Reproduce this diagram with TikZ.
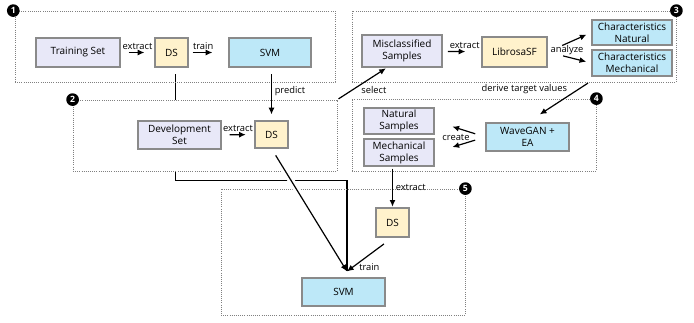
\documentclass[tikz,border=0pt]{standalone}
\usepackage{fontspec}
\setmainfont{Open Sans}
\usepackage{tikz}
\usetikzlibrary{arrows.meta,positioning,fit,calc}
\usepackage{xcolor}
\definecolor{setfill}{HTML}{E8E8F8}
\definecolor{dsfill}{HTML}{FFF2CC}
\definecolor{svmfill}{HTML}{BDE8F8}
\definecolor{edgegray}{HTML}{8A8A8A}
\pgfdeclarelayer{behind}
\pgfdeclarelayer{frames}
\pgfsetlayers{behind,frames,main}
\tikzset{
    pipebox/.style={draw=edgegray, line width=0.9pt, align=center, font=\fontsize{7.5}{9}\selectfont, inner sep=1pt, anchor=center},
    setbox/.style={pipebox, fill=setfill},
    dsbox/.style={pipebox, fill=dsfill},
    svmbox/.style={pipebox, fill=svmfill},
    stageframe/.style={draw=gray, densely dotted, line width=0.6pt, inner sep=0pt},
    stagebadge/.style={circle, fill=black, text=white, inner sep=0pt, minimum size=9.5pt, font=\fontsize{6.5}{7}\selectfont\bfseries},
    pipearrow/.style={-{Latex[length=5pt,width=4.5pt]}, line width=0.9pt},
    pipenote/.style={font=\fontsize{7}{8}\selectfont, inner sep=1pt}
}
\begin{document}
\begin{tikzpicture}[x=0.75pt,y=-0.75pt]
    \useasboundingbox (0,0) rectangle (694,322);

    % stage 1
    \node[setbox, minimum width=63pt, minimum height=21.75pt] (trainset) at (78,52.5) {Training Set};
    \node[dsbox, minimum width=24.75pt, minimum height=21.75pt] (ds1) at (171.5,52.5) {DS};
    \node[svmbox, minimum width=61.5pt, minimum height=21.75pt] (svm1) at (270,52.5) {SVM};

    % stage 2
    \node[setbox, minimum width=62.25pt, minimum height=21pt] (devset) at (179.5,135) {Development\\Set};
    \node[dsbox, minimum width=24.75pt, minimum height=20.25pt] (ds2) at (271.5,134.5) {DS};

    % stage 3
    \node[setbox, minimum width=60pt, minimum height=24pt] (missed) at (402,51) {Misclassified\\Samples};
    \node[dsbox, minimum width=48.75pt, minimum height=22.5pt] (librosa) at (514.5,52) {LibrosaSF};
    \node[svmbox, minimum width=60pt, minimum height=18.75pt] (charnat) at (632,32.5) {Characteristics\\Natural};
    \node[svmbox, minimum width=60pt, minimum height=19.5pt] (charmech) at (632,63) {Characteristics\\Mechanical};

    % stage 4
    \node[setbox, minimum width=52.5pt, minimum height=19.5pt] (natsamples) at (399,121) {Natural\\Samples};
    \node[setbox, minimum width=52.5pt, minimum height=20.25pt] (mechsamples) at (399,152.5) {Mechanical\\Samples};
    \node[svmbox, minimum width=62.25pt, minimum height=21pt] (wavegan) at (527.5,137) {WaveGAN +\\EA};

    % stage 5
    \node[dsbox, minimum width=24.75pt, minimum height=21.75pt] (ds3) at (392.5,222.5) {DS};
    \node[svmbox, minimum width=62.25pt, minimum height=21pt] (svm2) at (343.5,292) {SVM};
    \coordinate (svmin) at ([xshift=2.6pt,yshift=4.5pt]svm2.north);

    % dotted stage frames
    \begin{pgfonlayer}{frames}
        \node[stageframe, fit={(15,11) (335,82)}] (stage1) {};
        \node[stageframe, fill=white, fit={(73,100) (337,171)}] (stage2) {};
        \node[stageframe, fit={(352,11) (676,82)}] (stage3) {};
        \node[stageframe, fit={(352,99) (596,171)}] (stage4) {};
        \node[stageframe, fit={(221,189) (465,315)}] (stage5) {};
    \end{pgfonlayer}
    \node[stagebadge] (badge1) at ([xshift=-1pt]stage1.north west) {1};
    \node[stagebadge] (badge2) at (stage2.north west) {2};
    \node[stagebadge] (badge3) at (stage3.north east) {3};
    \node[stagebadge] (badge4) at (stage4.north east) {4};
    \node[stagebadge] (badge5) at (stage5.north east) {5};

    % connectors
    \draw[pipearrow, shorten <=6pt, shorten >=7.5pt] (trainset) -- node[pipenote, above=1pt]{extract} (ds1);
    \draw[pipearrow, shorten <=3pt, shorten >=12pt] (ds1) -- node[pipenote, above=1pt, xshift=-4pt]{train} (svm1);
    \draw[pipearrow, shorten <=5pt, shorten >=4.5pt] (svm1.south -| ds2.north) -- node[pipenote, right=1pt, yshift=2pt]{predict} (ds2.north);
    \draw[pipearrow, shorten <=6pt, shorten >=6.5pt] (devset) -- node[pipenote, above=1pt]{extract} (ds2);
    \begin{pgfonlayer}{behind}
        \draw[line width=0.9pt] ([xshift=3pt,yshift=-5pt]ds1.south) -- ++(0,106) -| (svmin);
    \end{pgfonlayer}
    \draw[pipearrow, preaction={draw=white, -, line width=5pt, shorten <=16pt, shorten >=25pt}, shorten <=6pt] (ds2.south) -- (svmin);
    \draw[pipearrow, shorten <=8pt] (ds3.south) -- node[pipenote, pos=0.86, right=3pt]{train} (svmin);
    \draw[pipearrow, shorten <=1pt, shorten >=1pt] (stage2.north east) -- node[pipenote, pos=0.31, right=5pt]{select} ([xshift=-11.25pt]missed.south);
    \draw[pipearrow, shorten <=4pt, shorten >=12pt] (missed) -- node[pipenote, above=1pt, xshift=2pt]{extract} (librosa);
    \draw[pipearrow, shorten <=12pt, shorten >=4pt] (librosa.east) -- (charnat.west);
    \draw[pipearrow, shorten <=12pt, shorten >=4pt] (librosa.east) -- (charmech.west);
    \node[pipenote] (analyze) at (567,50) {analyze};
    \draw[pipearrow, shorten <=9pt, shorten >=11pt] ([xshift=-25.5pt]charmech.south) -- node[pipenote, pos=0.28, left=7pt]{derive target values} (wavegan.north);
    \draw[pipearrow, shorten <=8pt, shorten >=14pt] (wavegan.west) -- (natsamples.east);
    \draw[pipearrow, shorten <=8pt, shorten >=14pt] (wavegan.west) -- (mechsamples.east);
    \node[pipenote] (create) at (456,137) {create};
    \draw[pipearrow, shorten <=1.5pt, shorten >=0.5pt] (mechsamples.south -| ds3.north) -- node[pipenote, right=1pt]{extract} (ds3.north);
\end{tikzpicture}
\end{document}
